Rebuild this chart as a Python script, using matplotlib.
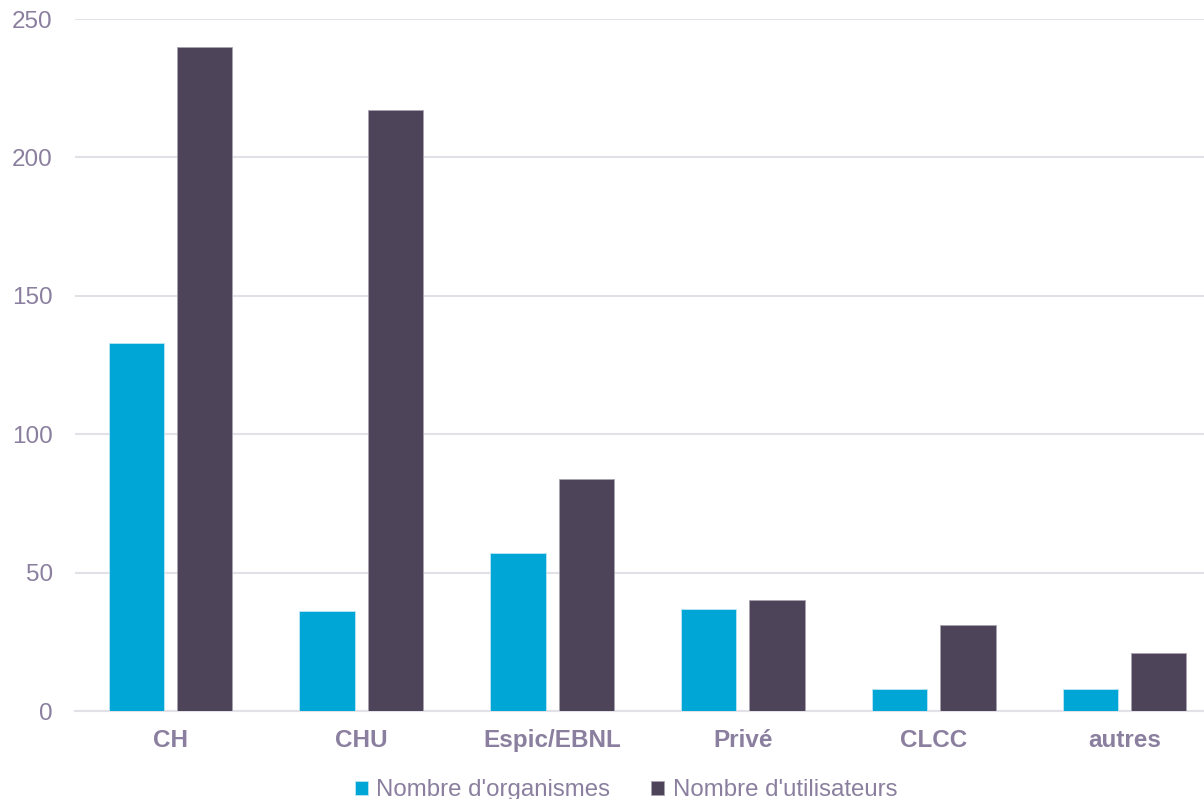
import numpy as np
import matplotlib

matplotlib.use("Agg")
import matplotlib.pyplot as plt

# ── Data ──────────────────────────────────────────────────
categories = ["CH", "CHU", "Espic/EBNL", "Privé", "CLCC", "autres"]
nb_organismes = [133, 36, 57, 37, 8, 8]
nb_utilisateurs = [240, 217, 84, 40, 31, 21]
series_labels = ["Nombre d'organismes", "Nombre d'utilisateurs"]
y_ticks = [0, 50, 100, 150, 200, 250]

# ── Style ─────────────────────────────────────────────────
plt.rcParams["font.family"] = ["Liberation Sans", "DejaVu Sans"]
text_color = "#8A7F9E"
grid_color = "#E3E1E8"
col_org = "#00A6D6"
col_users = "#4E4459"

fig = plt.figure(figsize=(12.04, 7.99), dpi=100)
# axes run a bit past the right edge, as in the original (cropped) chart
ax = fig.add_axes([0.0623, 0.1101, 0.951, 0.8661])

x = np.arange(len(categories))
width = 0.29
offset = 0.179

ax.bar(x - offset, nb_organismes, width, color=col_org, edgecolor="#BDE6F3",
       linewidth=0.6, label=series_labels[0], zorder=3)
ax.bar(x + offset, nb_utilisateurs, width, color=col_users, edgecolor="#A9A3B0",
       linewidth=0.6, label=series_labels[1], zorder=3)

ax.set_xlim(-0.5, len(categories) - 0.5)
ax.set_ylim(0, 250)
ax.set_yticks(y_ticks)
ax.set_xticks(x)
ax.set_xticklabels(categories, fontweight="bold")

ax.yaxis.grid(True, color=grid_color, linewidth=1.5, zorder=0)
ax.set_axisbelow(True)
for side in ["top", "right", "left"]:
    ax.spines[side].set_visible(False)
ax.spines["bottom"].set_color(grid_color)
ax.spines["bottom"].set_linewidth(1.5)

ax.tick_params(axis="both", length=0, colors=text_color, labelsize=17.5)
ax.tick_params(axis="y", pad=16)
ax.tick_params(axis="x", pad=13)

leg = fig.legend(loc="lower center", bbox_to_anchor=(0.52, -0.03), ncol=2,
                 frameon=False, fontsize=17.3, handlelength=0.55,
                 handleheight=0.55, handletextpad=0.35, columnspacing=1.7)
for t in leg.get_texts():
    t.set_color(text_color)

fig.savefig("out.png", dpi=100)
plt.close(fig)
